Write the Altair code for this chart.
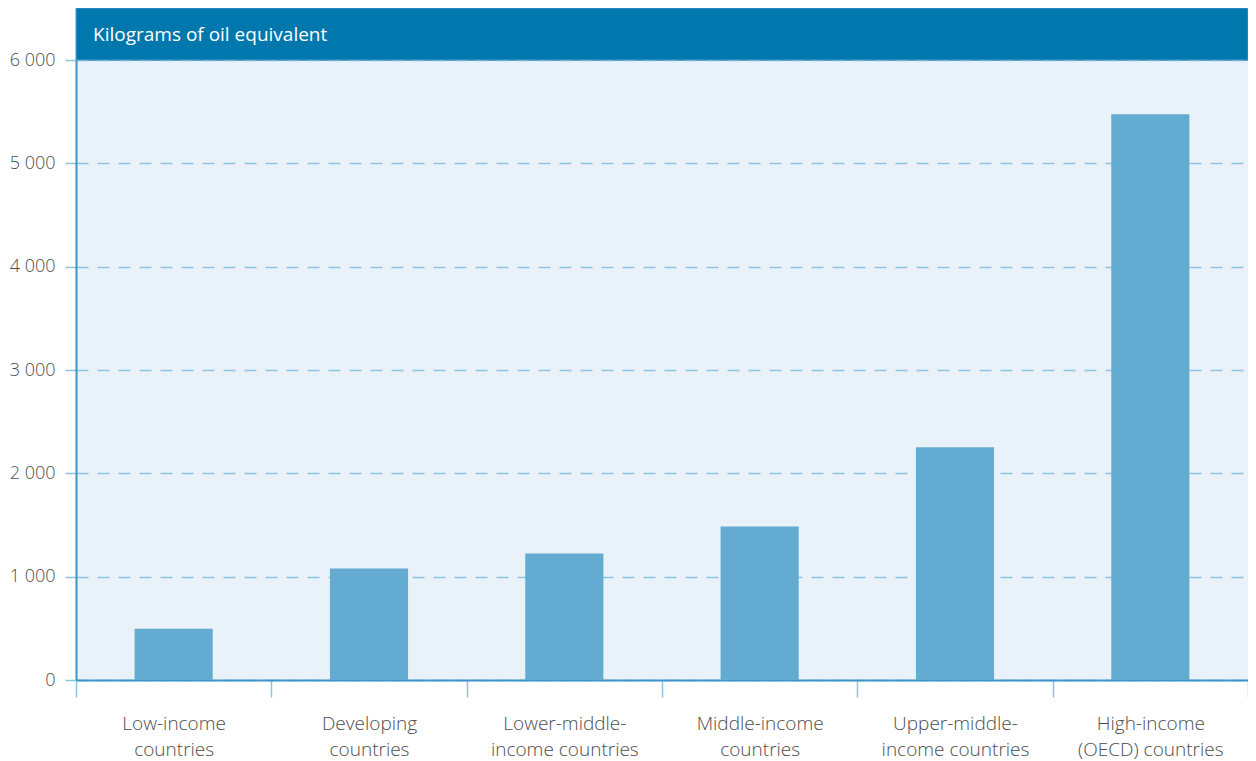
import altair as alt
import pandas as pd

categories = [
    "Low-income|countries",
    "Developing|countries",
    "Lower-middle-|income countries",
    "Middle-income|countries",
    "Upper-middle-|income countries",
    "High-income|(OECD) countries",
]
values = [495, 1078, 1223, 1485, 2252, 5476]
y_ticks = [0, 1000, 2000, 3000, 4000, 5000, 6000]
header_text = "Kilograms of oil equivalent"

df = pd.DataFrame({"category": categories, "value": values})

W, H = 1172, 620
FONT = "Open Sans"

bars = alt.Chart(df).mark_bar(
    color="#63abd0", width=alt.RelativeBandSize(0.4)
).encode(
    x=alt.X(
        "category:N",
        sort=categories,
        scale=alt.Scale(paddingInner=0, paddingOuter=0),
        axis=alt.Axis(
            title=None,
            labelAngle=0,
            labelExpr="split(datum.label, '|')",
            labelFont=FONT,
            labelFontSize=19,
            labelFontWeight=300,
            labelColor="#4d4d4d",
            labelLineHeight=26,
            labelPadding=17,
            labelBaseline="top",
            tickBand="extent",
            tickSize=17,
            tickColor="#8cc4e0",
            tickWidth=1.5,
            domainColor="#3d94c6",
            domainWidth=2,
            grid=False,
        ),
    ),
    y=alt.Y(
        "value:Q",
        scale=alt.Scale(domain=[0, 6000], nice=False),
        axis=alt.Axis(
            title=None,
            values=y_ticks,
            labelExpr="replace(format(datum.value, ','), ',', ' ')",
            labelFont=FONT,
            labelFontSize=18,
            labelFontWeight=300,
            labelColor="#4d4d4d",
            labelPadding=10,
            tickSize=11,
            tickColor="#8cc4e0",
            tickWidth=1.5,
            domainColor="#3d94c6",
            domainWidth=2,
            grid=True,
            gridColor="#8ec4e3",
            gridDash=[12, 9],
            gridWidth=1.5,
        ),
    ),
)

header_df = pd.DataFrame({"t": [header_text]})
header_rect = alt.Chart(header_df).mark_rect(
    color="#0077ad", stroke="#4a9cc9", strokeWidth=1
).encode(
    x=alt.value(0), x2=alt.value(W), y=alt.value(-52), y2=alt.value(0)
)
header_label = alt.Chart(header_df).mark_text(
    align="left", baseline="middle", color="white", font=FONT, fontSize=19
).encode(x=alt.value(17), y=alt.value(-25), text="t:N")

chart = (
    alt.layer(bars, header_rect, header_label)
    .properties(
        width=W,
        height=H,
        autosize=alt.AutoSizeParams(type="none"),
        padding={"left": 68, "top": 52, "right": 0, "bottom": 81},
        background="white",
    )
    .configure_view(fill="#eaf2f9", stroke="#5fa0c8", strokeWidth=1)
)

chart.save("out.html", embed_options={"renderer": "svg", "actions": False})
